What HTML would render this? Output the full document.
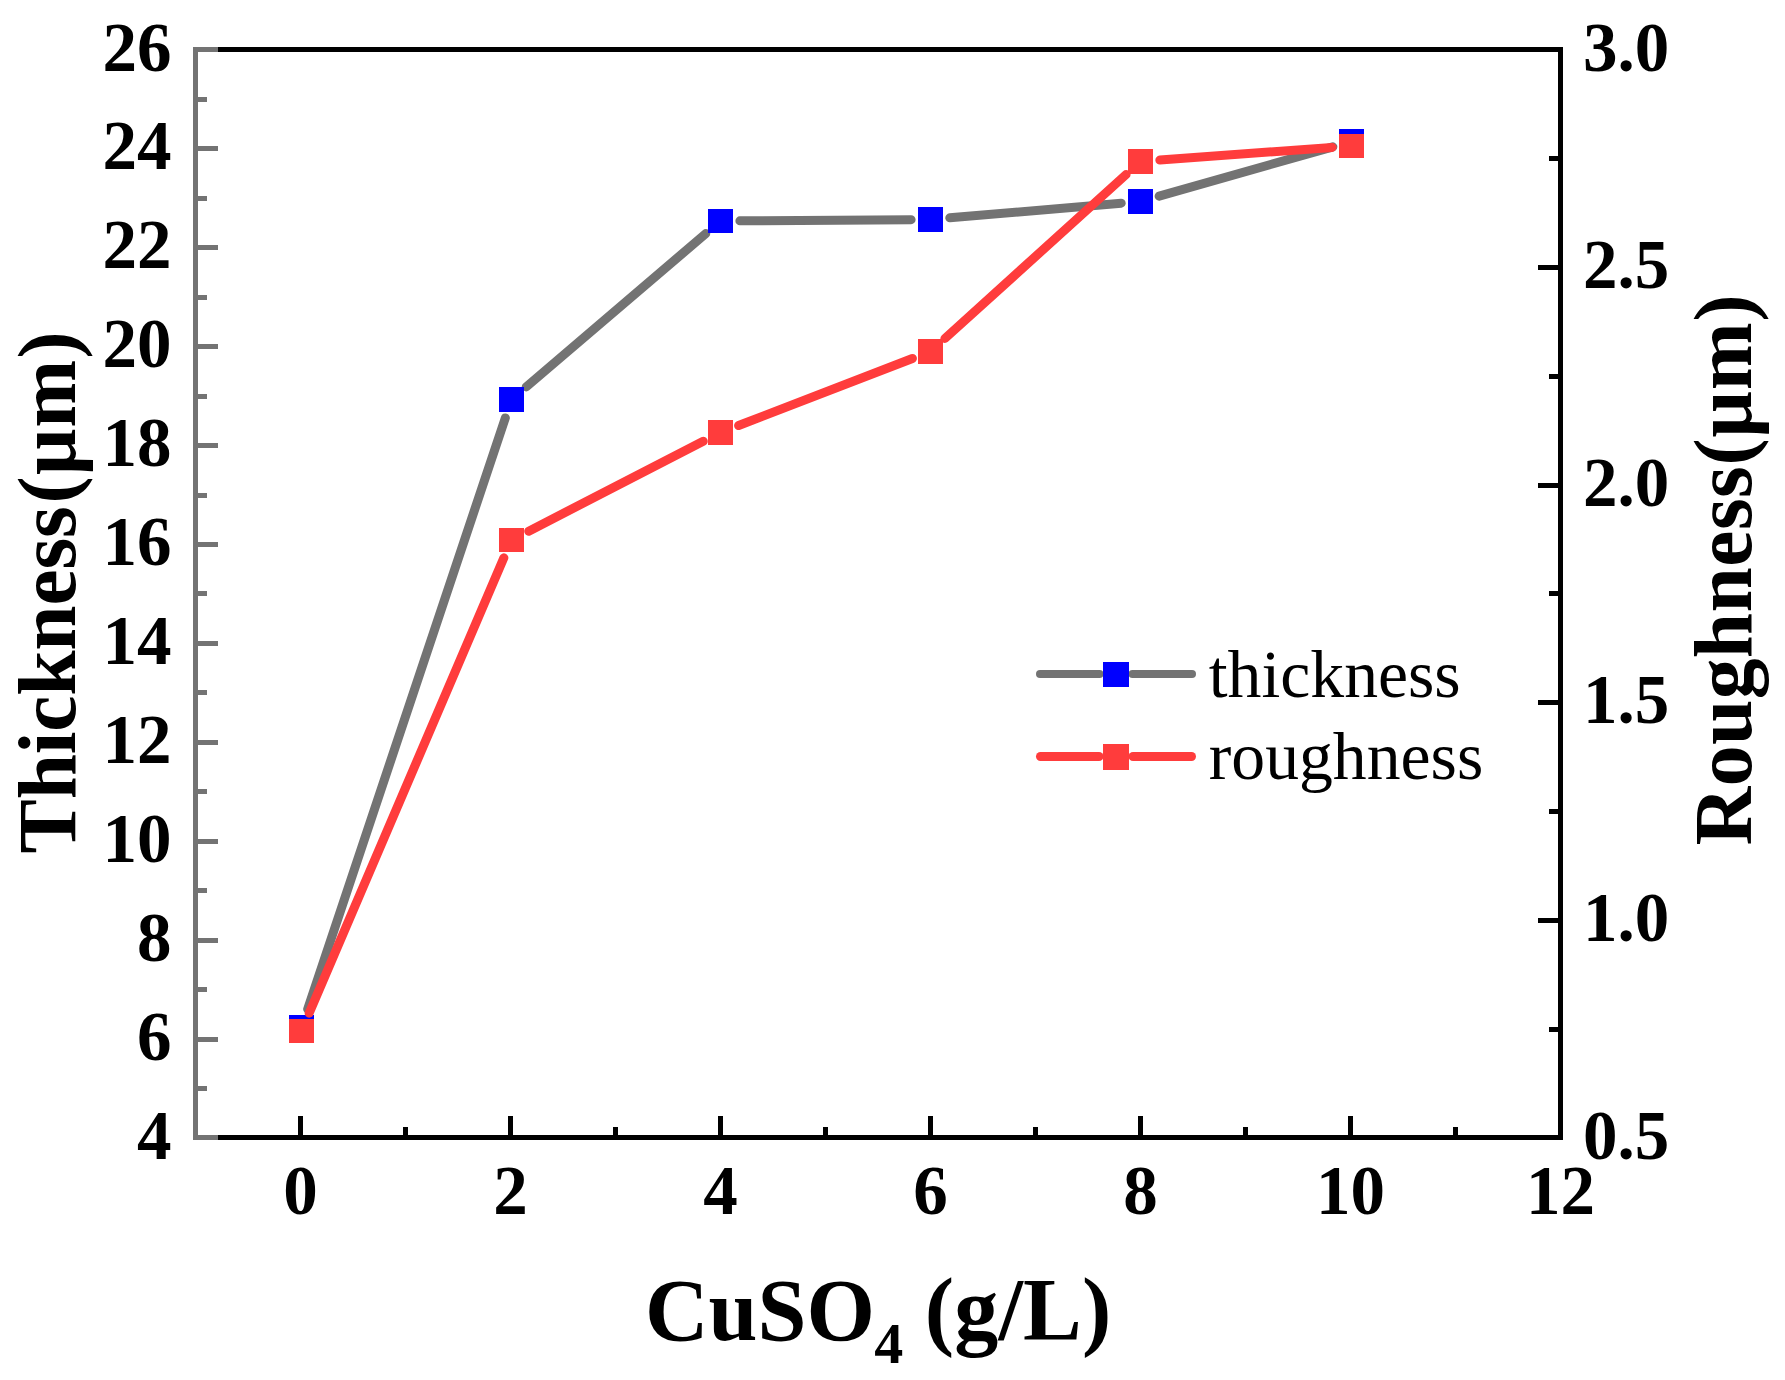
<!DOCTYPE html>
<html><head><meta charset="utf-8"><title>Thickness and roughness vs CuSO4</title>
<style>html,body{margin:0;padding:0;background:#fff}svg{display:block}</style></head>
<body>
<svg width="1785" height="1380" viewBox="0 0 1785 1380">
<rect width="1785" height="1380" fill="#fff"/>
<g shape-rendering="crispEdges">
<rect x="193.0" y="47.0" width="1370.0" height="5" fill="#000"/>
<rect x="193.0" y="1135.0" width="1370.0" height="5" fill="#000"/>
<rect x="1558.0" y="47.0" width="5" height="1093.0" fill="#000"/>
<rect x="298.0" y="1116.0" width="5" height="20" fill="#000"/>
<rect x="403.0" y="1127.0" width="5" height="9" fill="#000"/>
<rect x="508.0" y="1116.0" width="5" height="20" fill="#000"/>
<rect x="613.0" y="1127.0" width="5" height="9" fill="#000"/>
<rect x="718.0" y="1116.0" width="5" height="20" fill="#000"/>
<rect x="823.0" y="1127.0" width="5" height="9" fill="#000"/>
<rect x="928.0" y="1116.0" width="5" height="20" fill="#000"/>
<rect x="1033.0" y="1127.0" width="5" height="9" fill="#000"/>
<rect x="1138.0" y="1116.0" width="5" height="20" fill="#000"/>
<rect x="1243.0" y="1127.0" width="5" height="9" fill="#000"/>
<rect x="1348.0" y="1116.0" width="5" height="20" fill="#000"/>
<rect x="1453.0" y="1127.0" width="5" height="9" fill="#000"/>
<rect x="1549.0" y="1027" width="9" height="5" fill="#000"/>
<rect x="1538.0" y="918" width="20" height="5" fill="#000"/>
<rect x="1549.0" y="809" width="9" height="5" fill="#000"/>
<rect x="1538.0" y="700" width="20" height="5" fill="#000"/>
<rect x="1549.0" y="591" width="9" height="5" fill="#000"/>
<rect x="1538.0" y="483" width="20" height="5" fill="#000"/>
<rect x="1549.0" y="374" width="9" height="5" fill="#000"/>
<rect x="1538.0" y="265" width="20" height="5" fill="#000"/>
<rect x="1549.0" y="156" width="9" height="5" fill="#000"/>
<rect x="193.0" y="47.0" width="5" height="1093.0" fill="#737373"/>
<rect x="198.0" y="1135" width="20" height="5" fill="#737373"/>
<rect x="198.0" y="1086" width="9" height="5" fill="#737373"/>
<rect x="198.0" y="1037" width="20" height="5" fill="#737373"/>
<rect x="198.0" y="987" width="9" height="5" fill="#737373"/>
<rect x="198.0" y="938" width="20" height="5" fill="#737373"/>
<rect x="198.0" y="888" width="9" height="5" fill="#737373"/>
<rect x="198.0" y="839" width="20" height="5" fill="#737373"/>
<rect x="198.0" y="789" width="9" height="5" fill="#737373"/>
<rect x="198.0" y="740" width="20" height="5" fill="#737373"/>
<rect x="198.0" y="690" width="9" height="5" fill="#737373"/>
<rect x="198.0" y="641" width="20" height="5" fill="#737373"/>
<rect x="198.0" y="591" width="9" height="5" fill="#737373"/>
<rect x="198.0" y="542" width="20" height="5" fill="#737373"/>
<rect x="198.0" y="493" width="9" height="5" fill="#737373"/>
<rect x="198.0" y="443" width="20" height="5" fill="#737373"/>
<rect x="198.0" y="394" width="9" height="5" fill="#737373"/>
<rect x="198.0" y="344" width="20" height="5" fill="#737373"/>
<rect x="198.0" y="295" width="9" height="5" fill="#737373"/>
<rect x="198.0" y="245" width="20" height="5" fill="#737373"/>
<rect x="198.0" y="196" width="9" height="5" fill="#737373"/>
<rect x="198.0" y="146" width="20" height="5" fill="#737373"/>
<rect x="198.0" y="97" width="9" height="5" fill="#737373"/>
<rect x="198.0" y="47" width="20" height="5" fill="#737373"/>
</g>
<line x1="307.65" y1="1009.10" x2="505.35" y2="417.90" stroke="#737373" stroke-width="9" stroke-linecap="round"/>
<line x1="526.25" y1="386.90" x2="705.75" y2="233.60" stroke="#737373" stroke-width="9" stroke-linecap="round"/>
<line x1="739.90" y1="220.86" x2="911.10" y2="219.64" stroke="#737373" stroke-width="9" stroke-linecap="round"/>
<line x1="949.83" y1="217.84" x2="1121.17" y2="203.16" stroke="#737373" stroke-width="9" stroke-linecap="round"/>
<line x1="1159.16" y1="196.19" x2="1332.84" y2="146.81" stroke="#737373" stroke-width="9" stroke-linecap="round"/>
<rect x="289" y="1015" width="25" height="25" fill="#0000FF" shape-rendering="crispEdges"/>
<rect x="499" y="387" width="25" height="25" fill="#0000FF" shape-rendering="crispEdges"/>
<rect x="708" y="209" width="25" height="24" fill="#0000FF" shape-rendering="crispEdges"/>
<rect x="918" y="207" width="25" height="25" fill="#0000FF" shape-rendering="crispEdges"/>
<rect x="1128" y="189" width="25" height="25" fill="#0000FF" shape-rendering="crispEdges"/>
<rect x="1339" y="129" width="25" height="25" fill="#0000FF" shape-rendering="crispEdges"/>
<line x1="309.13" y1="1013.16" x2="503.87" y2="557.84" stroke="#FF3C3C" stroke-width="9" stroke-linecap="round"/>
<line x1="528.75" y1="531.13" x2="703.25" y2="441.37" stroke="#FF3C3C" stroke-width="9" stroke-linecap="round"/>
<line x1="738.60" y1="425.52" x2="912.40" y2="358.48" stroke="#FF3C3C" stroke-width="9" stroke-linecap="round"/>
<line x1="944.89" y1="338.48" x2="1126.11" y2="174.52" stroke="#FF3C3C" stroke-width="9" stroke-linecap="round"/>
<line x1="1159.85" y1="160.08" x2="1332.15" y2="147.42" stroke="#FF3C3C" stroke-width="9" stroke-linecap="round"/>
<rect x="289" y="1019" width="25" height="24" fill="#FF3C3C" shape-rendering="crispEdges"/>
<rect x="499" y="528" width="25" height="24" fill="#FF3C3C" shape-rendering="crispEdges"/>
<rect x="708" y="420" width="25" height="25" fill="#FF3C3C" shape-rendering="crispEdges"/>
<rect x="918" y="339" width="25" height="25" fill="#FF3C3C" shape-rendering="crispEdges"/>
<rect x="1128" y="149" width="25" height="25" fill="#FF3C3C" shape-rendering="crispEdges"/>
<rect x="1339" y="134" width="25" height="24" fill="#FF3C3C" shape-rendering="crispEdges"/>
<line x1="1040.0" y1="674" x2="1099.5" y2="674" stroke="#737373" stroke-width="8" stroke-linecap="round"/>
<line x1="1132.5" y1="674" x2="1192.0" y2="674" stroke="#737373" stroke-width="8" stroke-linecap="round"/>
<rect x="1103" y="662" width="26" height="25" fill="#0000FF" shape-rendering="crispEdges"/>
<line x1="1040.5" y1="756.5" x2="1099.0" y2="756.5" stroke="#FF3C3C" stroke-width="9" stroke-linecap="round"/>
<line x1="1133.0" y1="756.5" x2="1191.5" y2="756.5" stroke="#FF3C3C" stroke-width="9" stroke-linecap="round"/>
<rect x="1103" y="744" width="26" height="26" fill="#FF3C3C" shape-rendering="crispEdges"/>
<g font-family="'Liberation Serif', 'Times New Roman', serif" font-size="67.7" fill="#000">
<text x="1208.8" y="697">thickness</text>
<text x="1208.8" y="779">roughness</text>
</g>
<g font-family="'Liberation Serif', 'Times New Roman', serif" font-size="69" font-weight="bold" fill="#000">
<text x="171.5" y="1158.5" text-anchor="end">4</text>
<text x="171.5" y="1059.6" text-anchor="end">6</text>
<text x="171.5" y="960.7" text-anchor="end">8</text>
<text x="171.5" y="861.8" text-anchor="end">10</text>
<text x="171.5" y="762.9" text-anchor="end">12</text>
<text x="171.5" y="664.0" text-anchor="end">14</text>
<text x="171.5" y="565.0" text-anchor="end">16</text>
<text x="171.5" y="466.1" text-anchor="end">18</text>
<text x="171.5" y="367.2" text-anchor="end">20</text>
<text x="171.5" y="268.3" text-anchor="end">22</text>
<text x="171.5" y="169.4" text-anchor="end">24</text>
<text x="171.5" y="70.5" text-anchor="end">26</text>
<text x="1583" y="1158.5">0.5</text>
<text x="1583" y="940.9">1.0</text>
<text x="1583" y="723.3">1.5</text>
<text x="1583" y="505.7">2.0</text>
<text x="1583" y="288.1">2.5</text>
<text x="1583" y="70.5">3.0</text>
<text x="300.5" y="1214" text-anchor="middle">0</text>
<text x="510.5" y="1214" text-anchor="middle">2</text>
<text x="720.5" y="1214" text-anchor="middle">4</text>
<text x="930.5" y="1214" text-anchor="middle">6</text>
<text x="1140.5" y="1214" text-anchor="middle">8</text>
<text x="1350.5" y="1214" text-anchor="middle">10</text>
<text x="1560.5" y="1214" text-anchor="middle">12</text>
</g>
<text font-family="'Liberation Serif', 'Times New Roman', serif" font-weight="bold" font-size="88" x="645" y="1339.5">CuSO</text>
<text font-family="'Liberation Serif', 'Times New Roman', serif" font-weight="bold" font-size="58" x="874.2" y="1362.6">4</text>
<text font-family="'Liberation Serif', 'Times New Roman', serif" font-weight="bold" font-size="88" x="924.7" y="1339.3" letter-spacing="0.2">(g/L)</text>
<g transform="translate(75 853.5) rotate(-90)" font-family="'Liberation Serif', 'Times New Roman', serif" font-weight="bold" font-size="81.5"><text x="0" y="0" letter-spacing="-0.2">Thickness</text><text x="350" y="0" letter-spacing="1.25">(μm)</text></g>
<g transform="translate(1751 845.5) rotate(-90)" font-family="'Liberation Serif', 'Times New Roman', serif" font-weight="bold" font-size="81.5"><text x="0" y="0" letter-spacing="0.42">Roughness</text><text x="380" y="0" letter-spacing="0.9">(μm)</text></g>
</svg>
</body></html>
